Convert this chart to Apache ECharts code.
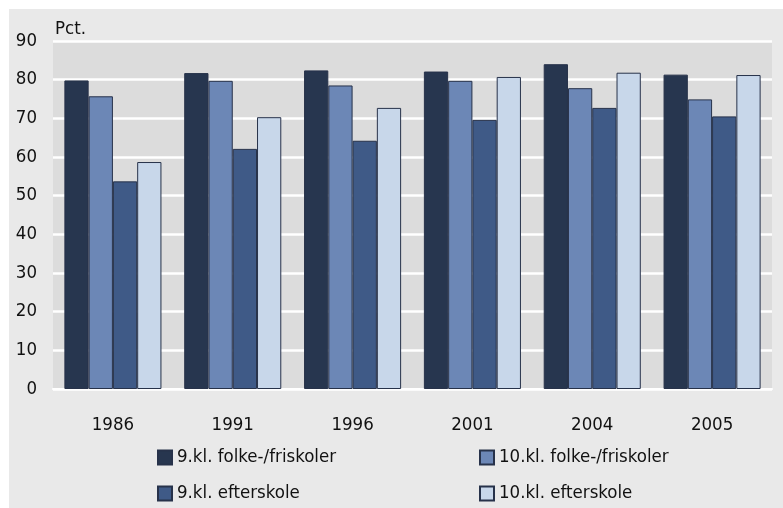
<!DOCTYPE html>
<html>
<head>
<meta charset="utf-8">
<script src="https://cdn.jsdelivr.net/npm/echarts@6/dist/echarts.min.js"></script>
<style>
  html, body { margin: 0; padding: 0; background: #ffffff; }
  #wrap { position: relative; width: 783px; height: 508px; }
  #bg { position: absolute; left: 9px; top: 9px; right: 0; bottom: 0; background: #e9e9e9; }
  #chart { position: absolute; left: 0; top: 0; width: 783px; height: 508px; }
</style>
</head>
<body>
<div id="wrap"><div id="bg"></div><div id="chart"></div></div>
<script>
const categories = ['1986', '1991', '1996', '2001', '2004', '2005'];
const seriesNames = ['9.kl. folke-/friskoler', '10.kl. folke-/friskoler', '9.kl. efterskole', '10.kl. efterskole'];
const kl9Folke = [79.8, 81.7, 82.4, 82.1, 84.0, 81.3];
const kl10Folke = [75.7, 79.7, 78.5, 79.7, 77.8, 74.9];
const kl9Efter = [53.7, 62.1, 64.2, 69.6, 72.7, 70.5];
const kl10Efter = [58.7, 70.3, 72.7, 80.7, 81.8, 81.2];
const yTicks = [0, 10, 20, 30, 40, 50, 60, 70, 80, 90];

const colors = ['#27364f', '#6c87b6', '#3f5a87', '#c8d7ea'];
const font = "'Liberation Sans Narrow', 'DejaVu Sans Condensed', 'Liberation Sans', sans-serif";
const values = [kl9Folke, kl10Folke, kl9Efter, kl10Efter];
const legendPos = [[157, 448], [479, 448], [157, 484], [479, 484]];

const chart = echarts.init(document.getElementById('chart'), null, { renderer: 'canvas' });
chart.setOption({
  backgroundColor: 'transparent',
  textStyle: { fontFamily: font, color: '#111' },
  animation: false,
  grid: {
    left: 53, right: 11, top: 41, bottom: 119,
    show: true, backgroundColor: '#dcdcdc', borderWidth: 0
  },
  legend: seriesNames.map((n, i) => ({
    data: [n],
    left: legendPos[i][0], top: legendPos[i][1],
    padding: 0,
    itemWidth: 14, itemHeight: 14,
    icon: 'rect',
    selectedMode: false,
    textStyle: { fontFamily: font, fontSize: 18.5, color: '#111' }
  })),
  xAxis: {
    type: 'category',
    data: categories,
    axisLine: { show: true, lineStyle: { color: '#ffffff', width: 2 } },
    axisTick: { show: false },
    axisLabel: { fontFamily: font, fontSize: 18.5, color: '#111', margin: 27 }
  },
  yAxis: {
    type: 'value',
    min: 0, max: 90, interval: 10,
    name: 'Pct.',
    nameLocation: 'end',
    nameGap: 2,
    nameTextStyle: { fontFamily: font, fontSize: 18.5, color: '#111', align: 'left', padding: [0, 0, 0, 2] },
    axisLine: { show: false },
    axisTick: { show: false },
    splitLine: { show: true, lineStyle: { color: '#ffffff', width: 2.5 } },
    axisLabel: {
      fontFamily: font, fontSize: 18.5, color: '#111', margin: 16,
      formatter: v => (yTicks.indexOf(v) >= 0 ? String(v) : '')
    }
  },
  series: values.map((d, i) => ({
    name: seriesNames[i],
    type: 'bar',
    data: d,
    barGap: '0%',
    barCategoryGap: '19%',
    itemStyle: { color: colors[i], borderColor: '#27324a', borderWidth: 1 }
  }))
});
</script>
</body>
</html>
